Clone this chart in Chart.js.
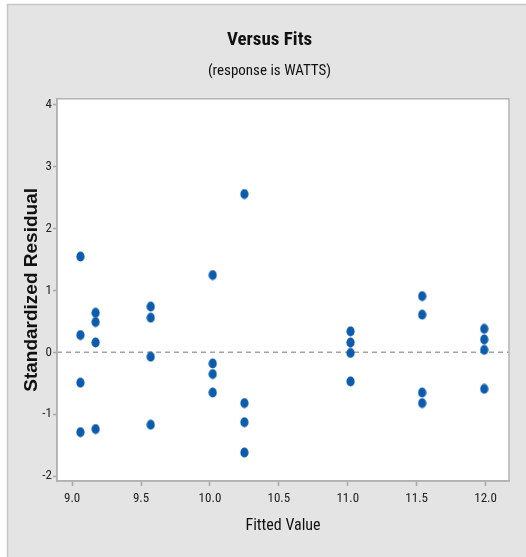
<!DOCTYPE html>
<html>
<head>
<meta charset="utf-8">
<script src="https://cdn.jsdelivr.net/npm/chart.js@4/dist/chart.umd.min.js"></script>
<style>
html,body{margin:0;padding:0;background:#fff;}
canvas{display:block;}
</style>
</head>
<body>
<canvas id="c" width="526" height="557"></canvas>
<script>
const fittedValues = [
  9.06, 9.06, 9.06, 9.06,
  9.17, 9.17, 9.17, 9.17,
  9.57, 9.57, 9.57, 9.57,
  10.02, 10.02, 10.02, 10.02,
  10.25, 10.25, 10.25, 10.25,
  11.02, 11.02, 11.02, 11.02,
  11.54, 11.54, 11.54, 11.54,
  11.99, 11.99, 11.99, 11.99
];
const residuals = [
  1.55, 0.28, -0.49, -1.29,
  0.64, 0.49, 0.16, -1.24,
  0.74, 0.56, -0.07, -1.17,
  1.25, -0.18, -0.35, -0.65,
  2.56, -0.82, -1.13, -1.62,
  0.34, 0.16, -0.01, -0.47,
  0.91, 0.61, -0.65, -0.82,
  0.38, 0.21, 0.04, -0.59
];
const xTicks = [9.0, 9.5, 10.0, 10.5, 11.0, 11.5, 12.0];
const yTicks = [-2, -1, 0, 1, 2, 3, 4];
const xRange = [8.89, 12.17];
const yRange = [-2.08, 4.1];
const referenceY = 0;

const narrow = "'Liberation Sans Narrow', 'Roboto Condensed', Roboto, 'Liberation Sans', sans-serif";

const points = fittedValues.map((x, i) => ({x: x, y: residuals[i]}));

// slightly tall elliptical marker, like the original symbols
const dot = document.createElement('canvas');
dot.width = 9; dot.height = 11;
(function () {
  const c = dot.getContext('2d');
  c.fillStyle = '#0b5cad';
  c.beginPath();
  c.ellipse(4.5, 5.5, 4.1, 5.1, 0, 0, Math.PI * 2);
  c.fill();
})();

const framePlugin = {
  id: 'frame',
  beforeDraw(chart) {
    const ctx = chart.ctx;
    const W = chart.width, H = chart.height;
    ctx.save();
    ctx.fillStyle = '#ffffff';
    ctx.fillRect(0, 0, W, H);
    ctx.fillStyle = '#e4e4e4';
    ctx.fillRect(7, 4, W - 7, H - 4);
    ctx.strokeStyle = '#c6c6c6';
    ctx.lineWidth = 1.5;
    ctx.beginPath();
    ctx.moveTo(7.5, H);
    ctx.lineTo(7.5, 4.5);
    ctx.lineTo(W, 4.5);
    ctx.stroke();
    const a = chart.chartArea;
    ctx.fillStyle = '#ffffff';
    ctx.fillRect(a.left, a.top, a.right - a.left, a.bottom - a.top);
    ctx.restore();
  },
  afterDatasetsDraw(chart) {
    const ctx = chart.ctx;
    const a = chart.chartArea;
    ctx.save();
    ctx.strokeStyle = '#b4b4b4';
    ctx.lineWidth = 1.5;
    ctx.strokeRect(a.left, a.top, a.right - a.left, a.bottom - a.top);
    ctx.restore();
  }
};

new Chart(document.getElementById('c'), {
  type: 'scatter',
  data: {
    datasets: [
      {
        type: 'line',
        data: [{x: xRange[0], y: referenceY}, {x: xRange[1], y: referenceY}],
        borderColor: '#a3a3a3',
        borderWidth: 1.5,
        borderDash: [5, 4],
        pointRadius: 0,
        fill: false,
        order: 2
      },
      {
        data: points,
        pointStyle: dot,
        backgroundColor: '#0b5cad',
        borderColor: '#0b5cad',
        borderWidth: 0,
        pointBorderWidth: 0,
        pointRadius: 5,
        pointHoverRadius: 5,
        order: 1
      }
    ]
  },
  options: {
    responsive: false,
    animation: false,
    events: [],
    layout: {padding: {left: 30, top: 0, right: 17, bottom: 0}},
    plugins: {
      legend: {display: false},
      tooltip: {enabled: false},
      title: {
        display: true,
        text: 'Versus Fits',
        color: '#111111',
        font: {family: narrow, size: 19, weight: 'bold'},
        padding: {top: 29, bottom: 0}
      },
      subtitle: {
        display: true,
        text: '(response is WATTS)',
        color: '#111111',
        font: {family: narrow, size: 15},
        padding: {top: 10, bottom: 19}
      }
    },
    scales: {
      x: {
        type: 'linear',
        min: xRange[0],
        max: xRange[1],
        afterFit(s) { s.height = 76; },
        afterBuildTicks(s) { s.ticks = xTicks.map(v => ({value: v})); },
        grid: {display: true, drawOnChartArea: false, drawTicks: true, tickLength: 5, tickColor: '#a8a8a8', tickWidth: 1.5},
        border: {display: true, color: '#a8a8a8', width: 1.5},
        ticks: {
          color: '#222222',
          font: {family: narrow, size: 13},
          padding: 5,
          maxRotation: 0,
          autoSkip: false,
          callback: v => Number(v).toFixed(1)
        },
        title: {
          display: true,
          text: 'Fitted Value',
          color: '#111111',
          font: {family: narrow, size: 16},
          padding: {top: 0, bottom: 21}
        }
      },
      y: {
        type: 'linear',
        min: yRange[0],
        max: yRange[1],
        afterFit(s) { s.width = 27; },
        afterBuildTicks(s) { s.ticks = yTicks.map(v => ({value: v})); },
        grid: {display: true, drawOnChartArea: false, drawTicks: true, tickLength: 4, tickColor: '#a8a8a8', tickWidth: 1.5},
        border: {display: true, color: '#a8a8a8', width: 1.5},
        ticks: {
          color: '#222222',
          font: {family: narrow, size: 13},
          padding: 1,
          autoSkip: false,
          callback: v => String(v)
        },
        title: {
          display: true,
          text: 'Standardized Residual',
          color: '#111111',
          font: {family: "'Liberation Sans', Arial, sans-serif", size: 19, weight: 'bold'},
          padding: {top: -10, bottom: 0}
        }
      }
    }
  },
  plugins: [framePlugin]
});
</script>
</body>
</html>
